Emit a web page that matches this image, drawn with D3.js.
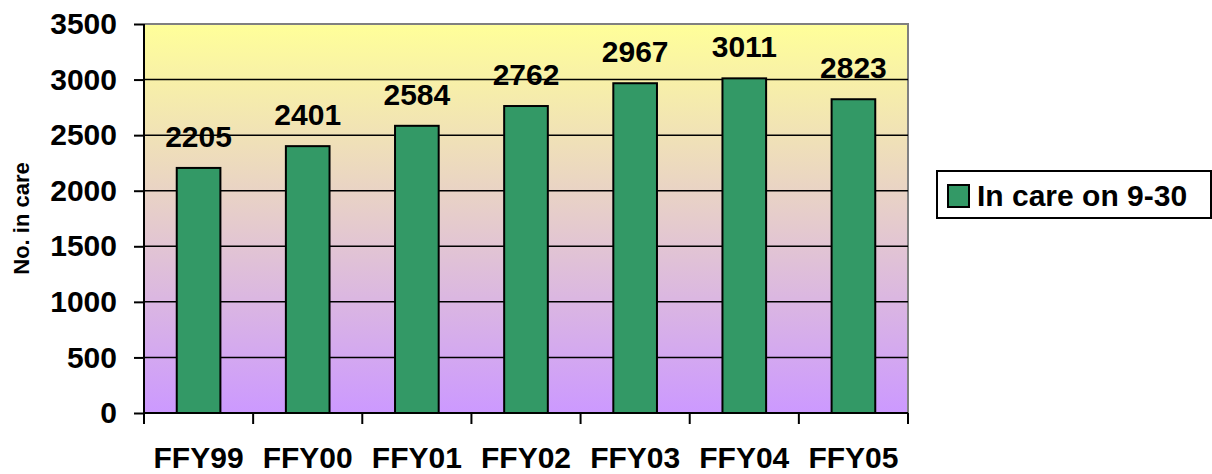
<!DOCTYPE html>
<html lang="en">
<head>
  <meta charset="UTF-8" />
  <title>No. in care by FFY</title>
  <style>
    body {
      margin: 0;
      background: #fff;
    }
    svg {
      display: block;
      font-family: "Liberation Sans", Arial, sans-serif;
      font-weight: bold;
    }
  </style>
</head>
<body>
  <svg id="chart" width="1212" height="474" viewBox="0 0 1212 474" xmlns="http://www.w3.org/2000/svg"></svg>

  <script src="https://d3js.org/d3.v7.min.js"></script>
  <script>
    const categories = ["FFY99", "FFY00", "FFY01", "FFY02", "FFY03", "FFY04", "FFY05"];
    const inCare = [2205, 2401, 2584, 2762, 2967, 3011, 2823];
    const yTicks = [0, 500, 1000, 1500, 2000, 2500, 3000, 3500];
    const seriesName = "In care on 9-30";
    const yTitle = "No. in care";

    const width = 1212;
    const height = 474;
    const margin = { left: 144, right: 304, top: 24, bottom: 61 };
    const plotW = width - margin.left - margin.right;
    const plotH = height - margin.top - margin.bottom;

    const svg = d3.select("#chart");

    // background gradient for the plot area
    const grad = svg.append("defs").append("linearGradient")
      .attr("id", "bg")
      .attr("x1", 0).attr("y1", 0).attr("x2", 0).attr("y2", 1);
    grad.append("stop").attr("offset", "0%").attr("stop-color", "#ffff99");
    grad.append("stop").attr("offset", "100%").attr("stop-color", "#cc99ff");

    const g = svg.append("g").attr("transform", `translate(${margin.left},${margin.top})`);

    const x = d3.scaleBand().domain(categories).range([0, plotW]).paddingInner(0.6).paddingOuter(0.3);
    const xEdge = d3.scaleLinear().domain([0, categories.length]).range([0, plotW]);
    const y = d3.scaleLinear().domain([0, 3500]).range([plotH, 0]);

    g.append("rect")
      .attr("width", plotW).attr("height", plotH)
      .attr("fill", "url(#bg)");

    // top and right border
    g.append("path")
      .attr("d", `M0,0H${plotW}V${plotH}`)
      .attr("fill", "none")
      .attr("stroke", "#808080")
      .attr("stroke-width", 2);

    // gridlines
    g.append("g")
      .selectAll("line")
      .data(yTicks.filter(t => t > 0 && t < 3500))
      .enter().append("line")
      .attr("x1", 0).attr("x2", plotW)
      .attr("y1", d => y(d)).attr("y2", d => y(d))
      .attr("stroke", "#000")
      .attr("stroke-width", 1.5);

    // bars
    g.append("g")
      .selectAll("rect")
      .data(inCare)
      .enter().append("rect")
      .attr("x", (d, i) => x(categories[i]))
      .attr("y", d => y(d))
      .attr("width", x.bandwidth())
      .attr("height", d => plotH - y(d))
      .attr("fill", "#339966")
      .attr("stroke", "#000")
      .attr("stroke-width", 2);

    // value labels
    g.append("g")
      .selectAll("text")
      .data(inCare)
      .enter().append("text")
      .attr("x", (d, i) => x(categories[i]) + x.bandwidth() / 2)
      .attr("y", d => y(d) - 21)
      .attr("text-anchor", "middle")
      .attr("font-size", 30)
      .text(d => d);

    // y axis
    const yAxis = g.append("g")
      .call(d3.axisLeft(y).tickValues(yTicks).tickFormat(d3.format("d")).tickSize(10).tickPadding(17));
    yAxis.select(".domain").attr("stroke", "#000").attr("stroke-width", 2).attr("d", `M0,${plotH}V0`);
    yAxis.selectAll(".tick line").attr("stroke", "#000").attr("stroke-width", 2);
    yAxis.selectAll(".tick text")
      .attr("font-size", 30)
      .attr("font-family", "Liberation Sans, Arial, sans-serif")
      .attr("font-weight", "bold")
      .attr("fill", "#000");

    // x axis
    const xAxis = g.append("g").attr("transform", `translate(0,${plotH})`);
    xAxis.append("line")
      .attr("x1", 0).attr("x2", plotW)
      .attr("stroke", "#000").attr("stroke-width", 2);
    xAxis.selectAll("line.tk")
      .data(d3.range(categories.length + 1))
      .enter().append("line")
      .attr("class", "tk")
      .attr("x1", d => xEdge(d)).attr("x2", d => xEdge(d))
      .attr("y1", 0).attr("y2", 11)
      .attr("stroke", "#000").attr("stroke-width", 2);
    xAxis.selectAll("text")
      .data(categories)
      .enter().append("text")
      .attr("x", d => x(d) + x.bandwidth() / 2)
      .attr("y", 55)
      .attr("text-anchor", "middle")
      .attr("font-size", 30)
      .text(d => d);

    // y title
    svg.append("text")
      .attr("transform", `translate(29,${margin.top + plotH / 2}) rotate(-90)`)
      .attr("text-anchor", "middle")
      .attr("font-size", 22)
      .text(yTitle);

    // legend
    const lg = svg.append("g").attr("transform", "translate(937,171)");
    lg.append("rect")
      .attr("width", 274).attr("height", 47)
      .attr("fill", "#fff").attr("stroke", "#000").attr("stroke-width", 2);
    lg.append("rect")
      .attr("x", 11).attr("y", 14).attr("width", 21).attr("height", 22)
      .attr("fill", "#339966").attr("stroke", "#000").attr("stroke-width", 2);
    lg.append("text")
      .attr("x", 40).attr("y", 35)
      .attr("font-size", 30)
      .text(seriesName);
  </script>
</body>
</html>
